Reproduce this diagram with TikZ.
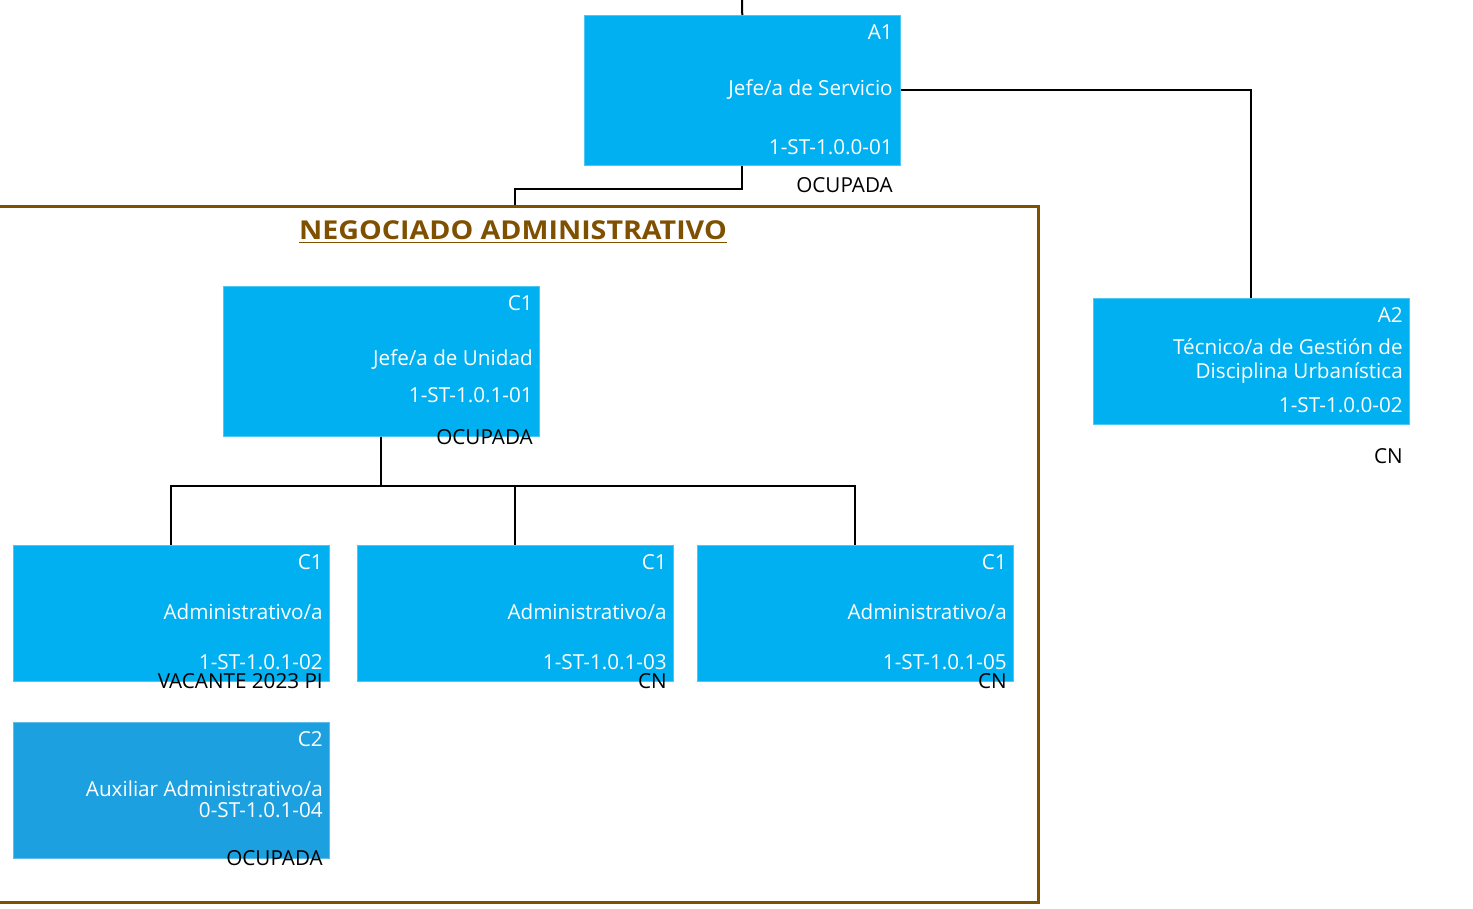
\documentclass[tikz,border=0pt]{standalone}
\usepackage{fontspec}
\setmainfont{Open Sans}
\newfontfamily\boxfont{Open Sans}
\newfontfamily\titlefont[FakeStretch=1.1]{Open Sans}
\usetikzlibrary{positioning}
\definecolor{boxblue}{HTML}{00B0F0}
\definecolor{boxblueb}{HTML}{1CA0E0}
\definecolor{framebrown}{HTML}{7F5000}
\tikzset{
  x=0.75pt, y=-0.75pt,
  posbox/.style={rectangle, fill=boxblue, draw=boxblue!70!white, line width=0.4pt, inner sep=0, anchor=north west},
  wtxt/.style={anchor=east, inner sep=0, text=white, font=\boxfont\fontsize{15.5}{18}\selectfont},
  btxt/.style={anchor=east, inner sep=0, text=black, font=\boxfont\fontsize{15.5}{18}\selectfont},
  conn/.style={draw=black, line width=1.5pt},
}
\begin{document}
\begin{tikzpicture}
\useasboundingbox (0,0) rectangle (1473,908);
% frame
\node[rectangle, draw=framebrown, line width=2.3pt, minimum width=1047*0.75pt, minimum height=696*0.75pt, anchor=north west, inner sep=0] (frame) at (-10,205) {};
\node[inner sep=0, text=framebrown, font=\titlefont\bfseries\fontsize{19.5}{22}\selectfont] (title) at (513,232) {\underline{NEGOCIADO ADMINISTRATIVO}};
% A1
\node[posbox, minimum width=316*0.75pt, minimum height=150*0.75pt] (A1) at (584,15) {};
\node[wtxt] (A1g) at (893,32) {A1};
\node[wtxt] (A1n) at (893,90) {Jefe/a de Servicio};
\node[wtxt] (A1c) at (893,147) {1-ST-1.0.0-01};
\node[btxt] (A1s) at (893,185) {OCUPADA};
% A2
\node[posbox, minimum width=316*0.75pt, minimum height=126*0.75pt] (A2) at (1093,298) {};
\node[wtxt] (A2g) at (1403,315) {A2};
\node[wtxt] (A2n1) at (1403,347) {Técnico/a de Gestión de};
\node[wtxt] (A2n2) at (1403,373) {Disciplina Urbanística};
\node[wtxt] (A2c) at (1403,405) {1-ST-1.0.0-02};
\node[btxt] (A2s) at (1403,456) {CN};
% Jefe unidad
\node[posbox, minimum width=316*0.75pt, minimum height=150*0.75pt] (JU) at (223,286) {};
\node[wtxt] (JUg) at (533,303) {C1};
\node[wtxt] (JUn) at (533,360) {Jefe/a de Unidad};
\node[wtxt] (JUc) at (533,395) {1-ST-1.0.1-01};
\node[btxt] (JUs) at (533,437) {OCUPADA};
% Admin 1
\node[posbox, minimum width=316*0.75pt, minimum height=136*0.75pt] (AD1) at (13,545) {};
\node[wtxt] (AD1g) at (323,562) {C1};
\node[wtxt] (AD1n) at (323,612) {Administrativo/a};
\node[wtxt] (AD1c) at (323,662) {1-ST-1.0.1-02};
\node[btxt] (AD1s) at (323,681) {VACANTE 2023 PI};
% Admin 2
\node[posbox, minimum width=316*0.75pt, minimum height=136*0.75pt] (AD2) at (357,545) {};
\node[wtxt] (AD2g) at (667,562) {C1};
\node[wtxt] (AD2n) at (667,612) {Administrativo/a};
\node[wtxt] (AD2c) at (667,662) {1-ST-1.0.1-03};
\node[btxt] (AD2s) at (667,681) {CN};
% Admin 3
\node[posbox, minimum width=316*0.75pt, minimum height=136*0.75pt] (AD3) at (697,545) {};
\node[wtxt] (AD3g) at (1007,562) {C1};
\node[wtxt] (AD3n) at (1007,612) {Administrativo/a};
\node[wtxt] (AD3c) at (1007,662) {1-ST-1.0.1-05};
\node[btxt] (AD3s) at (1007,681) {CN};
% C2
\node[posbox, fill=boxblueb, draw=boxblueb!70!white, minimum width=316*0.75pt, minimum height=136*0.75pt] (AUX) at (13,722) {};
\node[wtxt] (AUXg) at (323,739) {C2};
\node[wtxt] (AUXn) at (323,789) {Auxiliar Administrativo/a};
\node[wtxt] (AUXc) at (323,810) {0-ST-1.0.1-04};
\node[btxt] (AUXs) at (323,858) {OCUPADA};
% connectors
\coordinate (top) at (742,0);
\draw[conn] (top) -- (A1.north);
\draw[conn] (A1.south) -- ++(0,23) -| (frame.north);
\draw[conn] (A1.east) -| (A2.north);
\draw[conn] (JU.south) -- ++(0,49) -| (AD1.north);
\draw[conn] (JU.south) -- ++(0,49) -| (AD2.north);
\draw[conn] (JU.south) -- ++(0,49) -| (AD3.north);
\end{tikzpicture}
\end{document}
